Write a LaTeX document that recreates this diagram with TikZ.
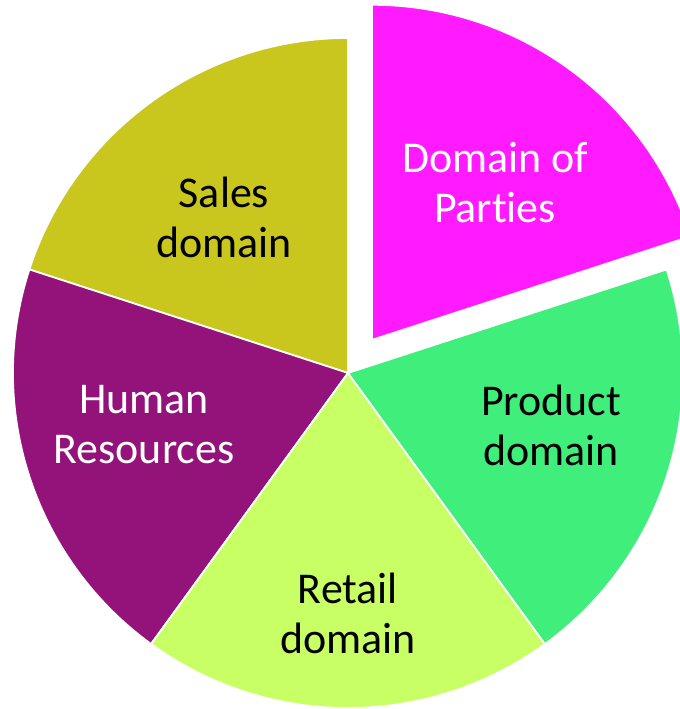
\documentclass[tikz,border=0pt]{standalone}
\usepackage{fontspec}
\setmainfont{Carlito}[Ligatures=NoCommon]
\usepackage{xcolor}
\definecolor{partiescol}{HTML}{FF1AFF}
\definecolor{salescol}{HTML}{C9C71D}
\definecolor{hrcol}{HTML}{93137A}
\definecolor{retailcol}{HTML}{C8FF64}
\definecolor{productcol}{HTML}{40EE7B}

\begin{document}
\begin{tikzpicture}[x=0.02cm, y=0.02cm,
    every node/.style={
        align=center,
        inner sep=0pt,
        font=\fontsize{25}{28.5}\selectfont
    },
    slice/.style={draw=white, line width=1pt}
]
    \useasboundingbox (0,0) rectangle (679,709);
    \coordinate (centre) at (348,336);
    \coordinate (parties_centre) at ([shift={(54:41)}]centre);

    \fill[slice, fill=salescol] (centre) -- ++(90:335) arc (90:162:335) -- cycle;
    \fill[slice, fill=hrcol] (centre) -- ++(162:335) arc (162:234:335) -- cycle;
    \fill[slice, fill=retailcol] (centre) -- ++(234:335) arc (234:306:335) -- cycle;
    \fill[slice, fill=productcol] (centre) -- ++(306:335) arc (306:378:335) -- cycle;
    \fill[slice, fill=partiescol] (parties_centre) -- ++(18:335) arc (18:90:335) -- cycle;

    \node (domain_of_parties) [text=white] at (495,526)
    {
        Domain of\\Parties
    };
    \node (sales_domain) at (224,492)
    {
        Sales\\domain
    };
    \node (human_resources) [text=white] at (144,284)
    {
        Human\\Resources
    };
    \node (product_domain) at (551,284)
    {
        Product\\domain
    };
    \node (retail_domain) at (348,96)
    {
        Retail\\domain
    };
\end{tikzpicture}
\end{document}
